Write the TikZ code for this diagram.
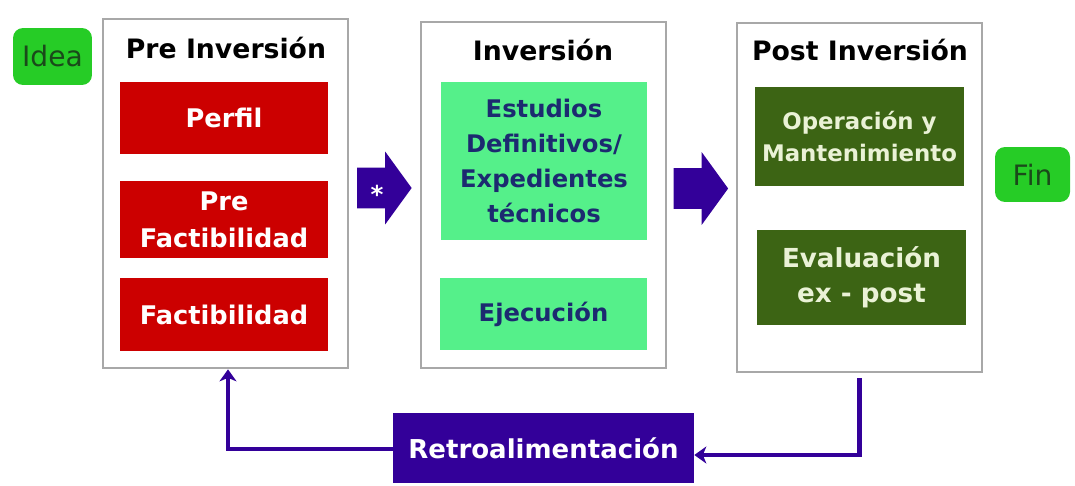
\documentclass[tikz,border=0pt]{standalone}
\usepackage{fontspec}
\setmainfont{DejaVu Sans}
\usetikzlibrary{shapes.arrows,arrows.meta}
\definecolor{framegray}{HTML}{A8A8A8}
\definecolor{prered}{HTML}{CC0000}
\definecolor{invgreen}{HTML}{55F08A}
\definecolor{invtext}{HTML}{1C2A70}
\definecolor{postolive}{HTML}{3C6414}
\definecolor{posttext}{HTML}{EAF2D6}
\definecolor{endgreen}{HTML}{26CC26}
\definecolor{enddark}{HTML}{1A4A1A}
\definecolor{arrowpurple}{HTML}{330099}
\tikzset{
    stage/.style={
    rectangle,draw=framegray,line width=0.055cm,fill=white,minimum width=4.9cm,inner sep=0pt
    },
    stagetitle/.style={
    font=\bfseries\fontsize{15.2}{18}\selectfont,text=black,inner sep=0pt
    },
    prebox/.style={
    rectangle,fill=prered,text=white,font=\bfseries\fontsize{14.6}{21}\selectfont,
    align=center,minimum width=4.16cm,inner sep=0pt
    },
    invbox/.style={
    rectangle,fill=invgreen,text=invtext,font=\bfseries\fontsize{13.8}{19.8}\selectfont,
    align=center,minimum width=4.13cm,inner sep=0pt
    },
    postbox/.style={
    rectangle,fill=postolive,text=posttext,align=center,minimum width=4.18cm,inner sep=0pt
    },
    endpoint/.style={
    rectangle,rounded corners=0.2cm,fill=endgreen,text=enddark,
    font=\fontsize{16}{18}\selectfont,inner sep=0pt
    },
    stagearrow/.style={
    single arrow,fill=arrowpurple,text=white,font=\bfseries\fontsize{14}{16}\selectfont,
    inner sep=0pt,text height=0.72cm,text depth=0.08cm,single arrow head extend=0.32cm,
    single arrow tip angle=108,minimum height=1.09cm
    },
    feedback/.style={
    rectangle,fill=arrowpurple,text=white,font=\bfseries\fontsize{14.8}{18}\selectfont,
    minimum width=6.02cm,minimum height=1.4cm,inner sep=0pt
    },
    fbline/.style={
    draw=arrowpurple,line width=0.09cm,-{Stealth[length=0.24cm,width=0.34cm,inset=0.07cm]}
    },
}
\begin{document}
\begin{tikzpicture}[x=0.02cm, y=-0.02cm]
   \useasboundingbox (0,0) rectangle (1075,486);

   \node[stage, minimum height=6.98cm] (pre) at (225.5,193.5) {};
   \node[stage, minimum height=6.92cm] (inv) at (543.5,195) {};
   \node[stage, minimum height=6.98cm] (post) at (859.5,197.5) {};

   \node[stagetitle] (pretitle) at (226,48) {Pre Inversión};
   \node[stagetitle] (invtitle) at (543,50) {Inversión};
   \node[stagetitle] (posttitle) at (860,50) {Post Inversión};

   \node[endpoint, minimum width=1.58cm, minimum height=1.14cm] (idea) at (52.5,56.5) {Idea};
   \node[endpoint, minimum width=1.5cm, minimum height=1.1cm] (fin) at (1032.5,174.5) {Fin};

   % pre inversion
   \node[prebox, minimum height=1.44cm] (perfil) at (224,118) {Perfil};
   \node[prebox, minimum height=1.54cm] (prefact) at (224,219.5) {Pre\\Factibilidad};
   \node[prebox, minimum height=1.46cm] (fact) at (224,314.5) {Factibilidad};

   % inversion
   \node[invbox, minimum height=3.16cm] (estudios) at (544,161) {Estudios\\Definitivos/\\Expedientes\\técnicos};
   \node[invbox, minimum height=1.44cm] (ejecucion) at (543.5,314) {Ejecución};

   % post inversion
   \node[postbox, minimum height=1.98cm, font=\bfseries\fontsize{13}{18.7}\selectfont] (operacion) at (859.5,136.5) {Operación y\\Mantenimiento};
   \node[postbox, minimum height=1.9cm, font=\bfseries\fontsize{14.9}{19.8}\selectfont] (evaluacion) at (861.5,277.5) {Evaluación\\ex - post};

   \node[stagearrow] (arrpre) at (377,188) {*};
   \node[stagearrow] (arrinv) at (693.5,188.5) {};

   \node[feedback] (retro) at (543.5,448) {Retroalimentación};

   \draw[fbline] ([yshift=-0.1cm]post.south) |- ([yshift=-0.14cm]retro.east);
   \draw[fbline] ([yshift=-0.02cm]retro.west) -| ([xshift=0.05cm]pre.south);
\end{tikzpicture}
\end{document}
